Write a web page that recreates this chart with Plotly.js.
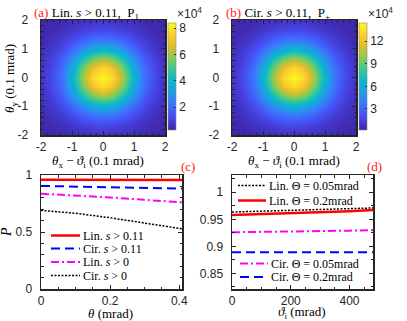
<!DOCTYPE html>
<html>
<head>
<meta charset="utf-8">
<script src="https://cdn.plot.ly/plotly-3.0.1.min.js"></script>
<style>
  html, body { margin: 0; padding: 0; background: #fff; }
  #chart { width: 407px; height: 321px; }
</style>
</head>
<body>
<div id="chart"></div>
<script>
// heatmap grid, units of 0.1 mrad
const gridX = [-2, -1.667, -1.333, -1, -0.667, -0.333, 0, 0.333, 0.667, 1, 1.333, 1.667, 2];
const gridY = [-2, -1.667, -1.333, -1, -0.667, -0.333, 0, 0.333, 0.667, 1, 1.333, 1.667, 2];
const gridTicks = [-2, -1, 0, 1, 2];
const gridTickText = ['-2', '-1', '0', '1', '2'];

// (a) Lin. s > 0.11, counts x 1e4
const countsLin = [
  [0.28,0.32,0.38,0.47,0.55,0.62,0.65,0.62,0.55,0.47,0.38,0.32,0.28],
  [0.32,0.40,0.53,0.71,0.92,1.09,1.16,1.09,0.92,0.71,0.53,0.40,0.32],
  [0.38,0.53,0.79,1.16,1.61,2.00,2.17,2.00,1.61,1.16,0.79,0.53,0.38],
  [0.47,0.71,1.16,1.86,2.74,3.51,3.84,3.51,2.74,1.86,1.16,0.71,0.47],
  [0.55,0.92,1.61,2.74,4.16,5.38,5.87,5.38,4.16,2.74,1.61,0.92,0.55],
  [0.62,1.09,2.00,3.51,5.38,7.01,7.67,7.01,5.38,3.51,2.00,1.09,0.62],
  [0.65,1.16,2.17,3.84,5.87,7.67,8.40,7.67,5.87,3.84,2.17,1.16,0.65],
  [0.62,1.09,2.00,3.51,5.38,7.01,7.67,7.01,5.38,3.51,2.00,1.09,0.62],
  [0.55,0.92,1.61,2.74,4.16,5.38,5.87,5.38,4.16,2.74,1.61,0.92,0.55],
  [0.47,0.71,1.16,1.86,2.74,3.51,3.84,3.51,2.74,1.86,1.16,0.71,0.47],
  [0.38,0.53,0.79,1.16,1.61,2.00,2.17,2.00,1.61,1.16,0.79,0.53,0.38],
  [0.32,0.40,0.53,0.71,0.92,1.09,1.16,1.09,0.92,0.71,0.53,0.40,0.32],
  [0.28,0.32,0.38,0.47,0.55,0.62,0.65,0.62,0.55,0.47,0.38,0.32,0.28]
];

// (b) Cir. s > 0.11, counts x 1e4
const countsCir = [
  [0.26,0.33,0.43,0.58,0.73,0.84,0.90,0.84,0.73,0.58,0.43,0.33,0.26],
  [0.33,0.47,0.68,1.01,1.36,1.66,1.79,1.66,1.36,1.01,0.68,0.47,0.33],
  [0.43,0.68,1.14,1.79,2.57,3.25,3.54,3.25,2.57,1.79,1.14,0.68,0.43],
  [0.58,1.01,1.79,3.00,4.53,5.88,6.45,5.88,4.53,3.00,1.79,1.01,0.58],
  [0.73,1.36,2.57,4.53,7.02,9.15,10.00,9.15,7.02,4.53,2.57,1.36,0.73],
  [0.84,1.66,3.25,5.88,9.15,11.99,13.14,11.99,9.15,5.88,3.25,1.66,0.84],
  [0.90,1.79,3.54,6.45,10.00,13.14,14.40,13.14,10.00,6.45,3.54,1.79,0.90],
  [0.84,1.66,3.25,5.88,9.15,11.99,13.14,11.99,9.15,5.88,3.25,1.66,0.84],
  [0.73,1.36,2.57,4.53,7.02,9.15,10.00,9.15,7.02,4.53,2.57,1.36,0.73],
  [0.58,1.01,1.79,3.00,4.53,5.88,6.45,5.88,4.53,3.00,1.79,1.01,0.58],
  [0.43,0.68,1.14,1.79,2.57,3.25,3.54,3.25,2.57,1.79,1.14,0.68,0.43],
  [0.33,0.47,0.68,1.01,1.36,1.66,1.79,1.66,1.36,1.01,0.68,0.47,0.33],
  [0.26,0.33,0.43,0.58,0.73,0.84,0.90,0.84,0.73,0.58,0.43,0.33,0.26]
];

// (c) polarization vs theta (mrad)
const theta = [0, 0.1, 0.2, 0.3, 0.41];
const linS011 = [0.959, 0.958, 0.958, 0.957, 0.957];
const cirS011 = [0.904, 0.899, 0.893, 0.887, 0.881];
const linS0 = [0.836, 0.822, 0.803, 0.782, 0.760];
const cirS0 = [0.690, 0.664, 0.625, 0.578, 0.527];

// (d) polarization vs vartheta_i (mrad)
const varthetaI = [0, 100, 200, 300, 400, 480];
const linTh005 = [0.9635, 0.965, 0.966, 0.968, 0.9695, 0.971];
const linTh02 = [0.958, 0.9595, 0.961, 0.963, 0.965, 0.967];
const cirTh005 = [0.926, 0.9265, 0.927, 0.928, 0.929, 0.930];
const cirTh02 = [0.889, 0.889, 0.8895, 0.8895, 0.889, 0.889];

const W = 407, H = 321;
const px = (v) => v / W;
const py = (v) => 1 - v / H;

const parula = [
  [0, 'rgb(62,38,168)'], [0.111, 'rgb(71,71,235)'], [0.222, 'rgb(62,111,255)'],
  [0.333, 'rgb(39,150,235)'], [0.444, 'rgb(8,181,208)'], [0.556, 'rgb(49,198,159)'],
  [0.667, 'rgb(129,204,89)'], [0.778, 'rgb(220,189,41)'], [0.889, 'rgb(252,207,48)'],
  [1, 'rgb(249,251,21)']
];

const sans = 'Liberation Sans, Arial, sans-serif';
const serif = 'Liberation Serif, Times New Roman, serif';
const ink = '#262626';

const red = '#ff0000', blue = '#0000ff', magenta = '#ff00ff', black = '#000000';
const styles = {
  solid: {color: red, width: 2.5, dash: 'solid'},
  dashed: {color: blue, width: 2, dash: '9px,5px'},
  dashdot: {color: magenta, width: 2, dash: '8px,3px,2px,3px'},
  dotted: {color: black, width: 1.5, dash: '2px,1.5px'},
};

function cbar(x, vals) {
  return {
    x: x, xanchor: 'left', y: py(76.5), yanchor: 'middle',
    len: 107 / H, lenmode: 'fraction', thickness: 8, thicknessmode: 'pixels',
    xpad: 0, ypad: 0, outlinewidth: 0.6, outlinecolor: '#888',
    tickvals: vals, ticks: 'inside', ticklen: 2, tickcolor: ink,
    tickfont: {family: sans, size: 12, color: ink},
  };
}

const traces = [
  {type: 'heatmap', x: gridX, y: gridY, z: countsLin, zsmooth: 'best',
   colorscale: parula, zmin: 0.25, zmax: 8.4, xaxis: 'x', yaxis: 'y',
   colorbar: cbar(px(168), [2, 4, 6, 8])},
  {type: 'heatmap', x: gridX, y: gridY, z: countsCir, zsmooth: 'best',
   colorscale: parula, zmin: 0.2, zmax: 14.4, xaxis: 'x2', yaxis: 'y2',
   colorbar: cbar(px(359), [3, 6, 9, 12])},

  {x: theta, y: linS011, mode: 'lines', line: styles.solid, xaxis: 'x3', yaxis: 'y3'},
  {x: theta, y: cirS011, mode: 'lines', line: styles.dashed, xaxis: 'x3', yaxis: 'y3'},
  {x: theta, y: linS0, mode: 'lines', line: styles.dashdot, xaxis: 'x3', yaxis: 'y3'},
  {x: theta, y: cirS0, mode: 'lines', line: styles.dotted, xaxis: 'x3', yaxis: 'y3'},

  {x: varthetaI, y: linTh005, mode: 'lines', line: styles.dotted, xaxis: 'x4', yaxis: 'y4'},
  {x: varthetaI, y: linTh02, mode: 'lines', line: styles.solid, xaxis: 'x4', yaxis: 'y4'},
  {x: varthetaI, y: cirTh005, mode: 'lines', line: styles.dashdot, xaxis: 'x4', yaxis: 'y4'},
  {x: varthetaI, y: cirTh02, mode: 'lines', line: styles.dashed, xaxis: 'x4', yaxis: 'y4'},
];

function ax(extra) {
  return Object.assign({
    showline: true, linecolor: ink, linewidth: 1.5, mirror: 'ticks',
    ticks: 'inside', ticklen: 4, tickcolor: ink, tickwidth: 1,
    showgrid: false, zeroline: false, fixedrange: true,
    tickfont: {family: sans, size: 12, color: ink},
  }, extra);
}

const heatMinor = {dtick: 0.2, ticks: 'inside', ticklen: 2.5, tickcolor: ink, showgrid: false};

const layout = {
  width: W, height: H,
  margin: {l: 0, r: 0, t: 0, b: 0},
  paper_bgcolor: '#fff', plot_bgcolor: '#fff',
  showlegend: false,
  xaxis: ax({domain: [px(41), px(165)], range: [-2, 2], anchor: 'y',
             tickvals: gridTicks, ticktext: gridTickText,
             ticklabelstandoff: 0, minor: heatMinor}),
  yaxis: ax({domain: [py(135), py(20)], range: [-2, 2], anchor: 'x',
             tickvals: gridTicks, ticktext: gridTickText,
             ticklabelstandoff: 9, minor: heatMinor}),
  xaxis2: ax({domain: [px(232), px(356)], range: [-2, 2], anchor: 'y2',
              tickvals: gridTicks, ticktext: gridTickText,
              ticklabelstandoff: 0, minor: heatMinor}),
  yaxis2: ax({domain: [py(135), py(20)], range: [-2, 2], anchor: 'x2',
              tickvals: gridTicks, ticktext: gridTickText,
              ticklabelstandoff: 9, minor: heatMinor}),
  xaxis3: ax({domain: [px(41), px(182)], range: [0, 0.408], dtick: 0.2, anchor: 'y3',
              ticklabelstandoff: 0,
              minor: {dtick: 0.05, ticks: 'inside', ticklen: 2.5, tickcolor: ink}}),
  yaxis3: ax({domain: [py(289), py(175)], range: [0, 1], dtick: 0.5, anchor: 'x3',
              ticklabelstandoff: 5,
              minor: {dtick: 0.1, ticks: 'inside', ticklen: 2.5, tickcolor: ink}}),
  xaxis4: ax({domain: [px(232), px(373)], range: [0, 480], dtick: 200, anchor: 'y4',
              ticklabelstandoff: 0,
              minor: {dtick: 50, ticks: 'inside', ticklen: 2.5, tickcolor: ink}}),
  yaxis4: ax({domain: [py(289), py(175)], range: [0.821, 1.032], anchor: 'x4',
              tickvals: [0.85, 0.9, 0.95, 1], ticktext: ['0.85', '0.9', '0.95', '1'],
              ticklabelstandoff: 5,
              minor: {dtick: 0.025, ticks: 'inside', ticklen: 2.5, tickcolor: ink}}),
  annotations: [],
  shapes: [],
};

function note(text, x, y, opts) {
  layout.annotations.push(Object.assign({
    text: text, xref: 'paper', yref: 'paper', x: px(x), y: py(y),
    xanchor: 'center', yanchor: 'middle', showarrow: false, borderpad: 0,
    font: {family: serif, size: 13, color: '#000'},
  }, opts || {}));
}

// panel titles
note('<span style="color:#ff2020">(a)</span> Lin. <i>s</i> &gt; 0.11,  P<sub>1</sub>', 33, 13, {xanchor: 'left'});
note('<span style="color:#ff2020">(b)</span> Cir. <i>s</i> &gt; 0.11,  P<sub>+</sub>', 225, 13, {xanchor: 'left'});
note('<span style="color:#ff2020">(c)</span>', 188, 167);
note('<span style="color:#ff2020">(d)</span>', 374, 167);
note('×10<sup>4</sup>', 176, 13, {xanchor: 'left', font: {family: sans, size: 12, color: ink}});
note('×10<sup>4</sup>', 367, 13, {xanchor: 'left', font: {family: sans, size: 12, color: ink}});

// axis titles
note('<i>θ</i><sub>x</sub> − <i>ϑ</i><sub>i</sub> (0.1 mrad)', 98, 162);
note('<i>θ</i><sub>x</sub> − <i>ϑ</i><sub>i</sub> (0.1 mrad)', 294, 162);
note('<i>θ</i><sub>y</sub> (0.1 mrad)', 10, 79, {textangle: -90});
note('<i>θ</i> (mrad)', 111, 313);
note('<i>ϑ</i><sub>i</sub> (mrad)', 302, 312);
note('<i>P</i>', 6, 232, {textangle: -90, font: {family: serif, size: 14, color: '#000'}});

// legends drawn as line samples + labels
function legendRow(style, text, x0, x1, y) {
  layout.shapes.push({type: 'line', xref: 'paper', yref: 'paper',
    x0: px(x0), x1: px(x1), y0: py(y), y1: py(y),
    line: {color: style.color, width: style.width, dash: style.dash}});
  note(text, x1 + 2, y, {xanchor: 'left', font: {family: serif, size: 12, color: '#000'}});
}
legendRow(styles.solid, 'Lin. <i>s</i> &gt; 0.11', 51, 80, 235.5);
legendRow(styles.dashed, 'Cir. <i>s</i> &gt; 0.11', 51, 80, 248.5);
legendRow(styles.dashdot, 'Lin. <i>s</i> &gt; 0', 51, 80, 262);
legendRow(styles.dotted, 'Cir. <i>s</i> &gt; 0', 51, 80, 275.5);

legendRow(styles.dotted, 'Lin. Θ = 0.05mrad', 238, 266, 185.5);
legendRow(styles.solid, 'Lin. Θ = 0.2mrad', 238, 266, 200.5);
legendRow(styles.dashdot, 'Cir. Θ = 0.05mrad', 240, 268, 263.5);
legendRow(styles.dashed, 'Cir. Θ = 0.2mrad', 240, 268, 277);

Plotly.newPlot('chart', traces, layout, {staticPlot: true, displayModeBar: false});
</script>
</body>
</html>
